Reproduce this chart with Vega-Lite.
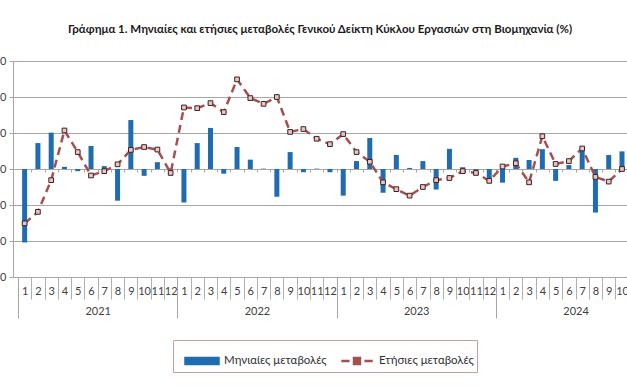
{
  "$schema": "https://vega.github.io/schema/vega-lite/v6.json",
  "width": 614,
  "height": 216,
  "autosize": {"type": "none"},
  "padding": {"left": 13, "top": 61, "right": 0, "bottom": 115},
  "background": "white",
  "title": {
    "text": "Γράφημα 1. Μηνιαίες και ετήσιες μεταβολές  Γενικού Δείκτη Κύκλου Εργασιών στη Βιομηχανία (%)",
    "anchor": "middle",
    "font": "Lato",
    "fontSize": 11.5,
    "fontWeight": "bold",
    "color": "#1a1a1a",
    "offset": 20
  },
  "config": {
    "view": {"stroke": null},
    "axis": {"labelFont": "Lato", "labelFontSize": 11, "labelColor": "#404040", "title": null, "grid": false},
    "legend": {"labelFont": "Lato", "labelFontSize": 11.5, "labelColor": "#303030"}
  },
  "data": {
    "values": [
      {"t": 1, "m": -20.4, "a": -15.1},
      {"t": 2, "m": 7.2, "a": -11.9},
      {"t": 3, "m": 10.1, "a": -3.1},
      {"t": 4, "m": 0.6, "a": 10.7},
      {"t": 5, "m": -0.6, "a": 4.7},
      {"t": 6, "m": 6.4, "a": -1.8},
      {"t": 7, "m": 0.8, "a": -0.6},
      {"t": 8, "m": -8.8, "a": 1.3},
      {"t": 9, "m": 13.6, "a": 5.3},
      {"t": 10, "m": -1.9, "a": 6.1},
      {"t": 11, "m": 1.9, "a": 5.4},
      {"t": 12, "m": 0.2, "a": -1.1},
      {"t": 13, "m": -9.3, "a": 17.1},
      {"t": 14, "m": 7.2, "a": 16.9},
      {"t": 15, "m": 11.4, "a": 18.3},
      {"t": 16, "m": -1.3, "a": 15.8},
      {"t": 17, "m": 6.1, "a": 24.9},
      {"t": 18, "m": 2.6, "a": 19.7},
      {"t": 19, "m": 0.1, "a": 18.1},
      {"t": 20, "m": -7.7, "a": 20.0},
      {"t": 21, "m": 4.7, "a": 10.3},
      {"t": 22, "m": -0.9, "a": 11.1},
      {"t": 23, "m": 0.1, "a": 8.4},
      {"t": 24, "m": -0.9, "a": 6.9},
      {"t": 25, "m": -7.4, "a": 9.7},
      {"t": 26, "m": 2.2, "a": 4.7},
      {"t": 27, "m": 8.6, "a": 2.0},
      {"t": 28, "m": -6.6, "a": -3.7},
      {"t": 29, "m": 3.9, "a": -5.6},
      {"t": 30, "m": 0.3, "a": -7.4},
      {"t": 31, "m": 2.2, "a": -5.0},
      {"t": 32, "m": -5.7, "a": -3.1},
      {"t": 33, "m": 5.6, "a": -2.5},
      {"t": 34, "m": 0.5, "a": -0.6},
      {"t": 35, "m": -0.3, "a": -1.1},
      {"t": 36, "m": -2.6, "a": -3.3},
      {"t": 37, "m": -3.8, "a": 0.7},
      {"t": 38, "m": 3.1, "a": 1.6},
      {"t": 39, "m": 2.5, "a": -3.7},
      {"t": 40, "m": 5.5, "a": 9.1},
      {"t": 41, "m": -3.3, "a": 1.4},
      {"t": 42, "m": 1.1, "a": 2.2},
      {"t": 43, "m": 5.7, "a": 5.7},
      {"t": 44, "m": -12.1, "a": -2.2},
      {"t": 45, "m": 3.9, "a": -3.5},
      {"t": 46, "m": 4.9, "a": 0.0}
    ]
  },
  "resolve": {"axis": {"x": "independent", "y": "independent"}},
  "layer": [
    {
      "mark": {"type": "bar", "size": 5, "clip": true},
      "encoding": {
        "x": {"field": "t", "type": "quantitative",
          "scale": {"domain": [0.5, 46.0], "nice": false, "zero": false},
          "axis": {"orient": "bottom", "values": [1,2,3,4,5,6,7,8,9,10,11,12,13,14,15,16,17,18,19,20,21,22,23,24,25,26,27,28,29,30,31,32,33,34,35,36,37,38,39,40,41,42,43,44,45,46],
            "labelExpr": "((datum.value - 1) % 12) + 1", "ticks": false, "domain": false, "labelPadding": 8, "labelFlush": false, "labelOverlap": false}},
        "y": {"field": "m", "type": "quantitative",
          "scale": {"domain": [-30, 30], "nice": false},
          "axis": {"orient": "left", "values": [-30,-20,-10,0,10,20,30], "grid": true, "gridColor": "#A6A6A6", "domainColor": "#A6A6A6", "tickColor": "#A6A6A6", "tickSize": 4, "labelPadding": 3}},
        "color": {"datum": "Μηνιαίες μεταβολές", "type": "nominal",
          "scale": {"domain": ["Μηνιαίες μεταβολές", "Ετήσιες μεταβολές"], "range": ["#1F6CB0", "#A5504E"]},
          "legend": {
            "title": null, "orient": "none", "legendX": 160, "legendY": 279, "direction": "horizontal",
            "strokeColor": "#C4A0A0", "fillColor": "white", "padding": 3,
            "symbolSize": 1089, "symbolOffset": 8, "labelOffset": 4, "columnPadding": 4,
            "encode": {"symbols": {"update": {
              "shape": {"signal": "datum.value === 'Μηνιαίες μεταβολές' ? 'M-1,-0.18H1V0.18H-1Z' : 'M-0.95,0H-0.45M0.45,0H0.95M-0.18,-0.18H0.18V0.18H-0.18Z'"},
              "fill": {"signal": "datum.value === 'Μηνιαίες μεταβολές' ? '#1F6CB0' : '#EBC4C4'"},
              "stroke": {"signal": "datum.value === 'Μηνιαίες μεταβολές' ? 'transparent' : '#A5504E'"},
              "strokeWidth": {"value": 2.5},
              "strokeDash": {"value": []},
              "opacity": {"value": 1}
            }}}
          }}
      }
    },
    {
      "mark": {"type": "line", "strokeDash": [8, 5], "strokeWidth": 2.5, "clip": true},
      "encoding": {
        "x": {"field": "t", "type": "quantitative",
          "scale": {"domain": [0.5, 46.0], "nice": false, "zero": false},
          "axis": {"orient": "bottom", "values": [1.5,2.5,3.5,4.5,5.5,6.5,7.5,8.5,9.5,10.5,11.5,13.5,14.5,15.5,16.5,17.5,18.5,19.5,20.5,21.5,22.5,23.5,25.5,26.5,27.5,28.5,29.5,30.5,31.5,32.5,33.5,34.5,35.5,37.5,38.5,39.5,40.5,41.5,42.5,43.5,44.5,45.5],
            "labels": false, "domain": false, "tickSize": 22, "tickColor": "#B0B0B0"}},
        "y": {"field": "a", "type": "quantitative", "scale": {"domain": [-30, 30], "nice": false}, "axis": null},
        "color": {"datum": "Ετήσιες μεταβολές", "type": "nominal"}
      }
    },
    {
      "mark": {"type": "point", "shape": "square", "size": 22, "filled": true, "fill": "#EBC4C4", "stroke": "#3A2222", "strokeWidth": 1, "opacity": 1, "clip": true},
      "encoding": {
        "x": {"field": "t", "type": "quantitative",
          "scale": {"domain": [0.5, 46.0], "nice": false, "zero": false},
          "axis": {"orient": "bottom", "values": [6.5, 18.5, 30.5, 42.5], "labelExpr": "2021 + floor(datum.value / 12)", "ticks": false, "domain": false, "labelPadding": 28, "labelFlush": false}},
        "y": {"field": "a", "type": "quantitative", "scale": {"domain": [-30, 30], "nice": false}, "axis": null}
      }
    },
    {
      "mark": {"type": "point", "opacity": 0},
      "encoding": {
        "x": {"field": "t", "type": "quantitative",
          "scale": {"domain": [0.5, 46.0], "nice": false, "zero": false},
          "axis": {"orient": "bottom", "values": [0.5, 12.5, 24.5, 36.5], "labels": false, "domain": false, "tickSize": 41, "tickColor": "#A6A6A6"}},
        "y": {"field": "a", "type": "quantitative", "scale": {"domain": [-30, 30], "nice": false}, "axis": null}
      }
    },
    {
      "mark": {"type": "point", "opacity": 0},
      "encoding": {
        "x": {"field": "t", "type": "quantitative",
          "scale": {"domain": [0.5, 46.0], "nice": false, "zero": false},
          "axis": {"orient": "bottom", "offset": -108, "values": [1.5,2.5,3.5,4.5,5.5,6.5,7.5,8.5,9.5,10.5,11.5,12.5,13.5,14.5,15.5,16.5,17.5,18.5,19.5,20.5,21.5,22.5,23.5,24.5,25.5,26.5,27.5,28.5,29.5,30.5,31.5,32.5,33.5,34.5,35.5,36.5,37.5,38.5,39.5,40.5,41.5,42.5,43.5,44.5,45.5],
            "labels": false, "domain": true, "domainColor": "#A6A6A6", "tickSize": 3, "tickColor": "#A6A6A6"}},
        "y": {"field": "a", "type": "quantitative", "scale": {"domain": [-30, 30], "nice": false}, "axis": null}
      }
    }
  ]
}
